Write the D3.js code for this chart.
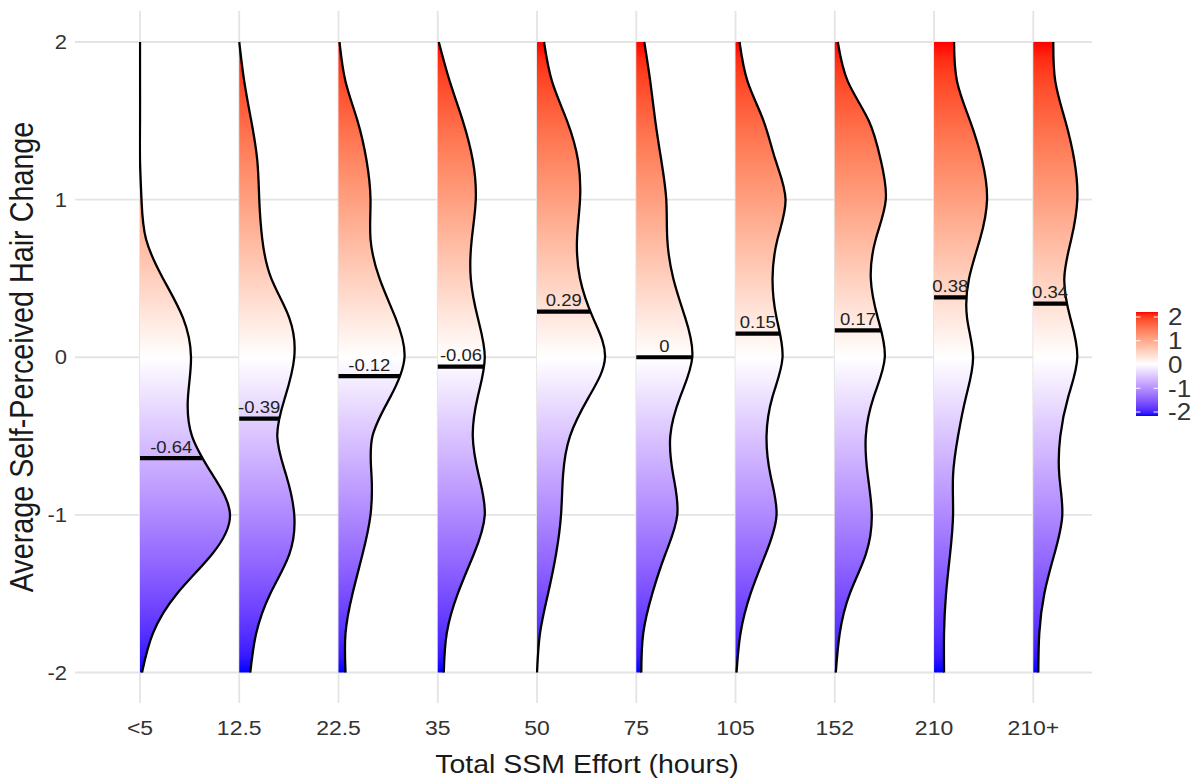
<!DOCTYPE html>
<html>
<head>
<meta charset="utf-8">
<script src="https://cdn.jsdelivr.net/npm/d3@7"></script>
<style>
  html, body { margin: 0; padding: 0; background: #ffffff; }
  svg { display: block; }
  text { font-family: "Liberation Sans", Arial, Helvetica, sans-serif; }
</style>
</head>
<body>
<svg id="chart" width="1198" height="783"></svg>
<script>
// ---------------- DATA ----------------
const categories = ["<5", "12.5", "22.5", "35", "50", "75", "105", "152", "210", "210+"];
// y levels at which the (relative) density of each group was read
const yLevels = [2, 1.75, 1.5, 1.25, 1, 0.75, 0.5, 0.25, 0, -0.25, -0.5, -0.75, -1, -1.25, -1.5, -1.75, -2];
// relative densities (half-violin widths) per group, top (2) to bottom (-2)
const densLt5  = [0.00, 0.00, 0.00, 0.00, 0.015, 0.06, 0.23, 0.43, 0.51, 0.48, 0.52, 0.73, 0.90, 0.72, 0.37, 0.13, 0.02];
const dens12_5 = [0.00, 0.05, 0.12, 0.18, 0.20, 0.23, 0.32, 0.50, 0.55, 0.46, 0.38, 0.47, 0.55, 0.50, 0.31, 0.17, 0.11];
const dens22_5 = [0.01, 0.07, 0.19, 0.28, 0.32, 0.32, 0.41, 0.57, 0.66, 0.52, 0.34, 0.33, 0.32, 0.24, 0.14, 0.07, 0.07];
const dens35   = [0.01, 0.12, 0.25, 0.35, 0.38, 0.34, 0.33, 0.40, 0.47, 0.40, 0.35, 0.41, 0.47, 0.36, 0.20, 0.09, 0.06];
const dens50   = [0.07, 0.15, 0.30, 0.41, 0.43, 0.40, 0.43, 0.56, 0.68, 0.52, 0.33, 0.26, 0.24, 0.19, 0.11, 0.03, 0.00];
const dens75   = [0.08, 0.14, 0.19, 0.25, 0.30, 0.31, 0.37, 0.49, 0.56, 0.44, 0.34, 0.37, 0.41, 0.29, 0.16, 0.07, 0.05];
const dens105  = [0.04, 0.12, 0.28, 0.40, 0.50, 0.42, 0.37, 0.41, 0.47, 0.37, 0.31, 0.35, 0.41, 0.30, 0.15, 0.05, 0.01];
const dens152  = [0.03, 0.13, 0.34, 0.46, 0.51, 0.41, 0.36, 0.43, 0.50, 0.39, 0.31, 0.33, 0.37, 0.31, 0.15, 0.05, 0.01];
const dens210  = [0.20, 0.23, 0.36, 0.48, 0.53, 0.46, 0.35, 0.33, 0.39, 0.32, 0.24, 0.19, 0.19, 0.16, 0.12, 0.10, 0.10];
const dens210p = [0.20, 0.22, 0.32, 0.41, 0.44, 0.38, 0.31, 0.37, 0.44, 0.35, 0.27, 0.26, 0.29, 0.21, 0.11, 0.06, 0.05];
const densities = [densLt5, dens12_5, dens22_5, dens35, dens50, dens75, dens105, dens152, dens210, dens210p];
const means = [-0.64, -0.39, -0.12, -0.06, 0.29, 0, 0.15, 0.17, 0.38, 0.34];
const meanLabels = ["-0.64", "-0.39", "-0.12", "-0.06", "0.29", "0", "0.15", "0.17", "0.38", "0.34"];
const yTicks = [2, 1, 0, -1, -2];
const legendTicks = [2, 1, 0, -1, -2];
const xTitle = "Total SSM Effort (hours)";
const yTitle = "Average Self-Perceived Hair Change";

// ---------------- LAYOUT ----------------
const svg = d3.select("#chart");
const panel = { left: 75, right: 1092, top: 11, bottom: 703 };
const SQ = 0.89; // vertical squash of the original rendering's text

const x = d3.scalePoint().domain(categories).range([140, 1033.3]);
const y = d3.scaleLinear().domain([-2, 2]).range([672.5, 42]);
const w = d3.scaleLinear().domain([0, 1]).range([0, 100]);
const color = d3.scaleLinear().domain([-2, 0, 2]).range(["#0000ff", "#ffffff", "#ff0000"]).interpolate(d3.interpolateLab);

const defs = svg.append("defs");
const grad = defs.append("linearGradient").attr("id", "vgrad")
  .attr("gradientUnits", "userSpaceOnUse")
  .attr("x1", 0).attr("x2", 0).attr("y1", y(2)).attr("y2", y(-2));
d3.range(0, 41).forEach(i => {
  const v = 2 - i * 0.1;
  grad.append("stop").attr("offset", (i / 40)).attr("stop-color", color(v));
});
const lgrad = defs.append("linearGradient").attr("id", "lgrad")
  .attr("x1", 0).attr("x2", 0).attr("y1", 0).attr("y2", 1);
d3.range(0, 41).forEach(i => {
  const v = 2 - i * 0.1;
  lgrad.append("stop").attr("offset", (i / 40)).attr("stop-color", color(v));
});

// ---------------- GRID ----------------
const grid = svg.append("g");
grid.selectAll("line.h").data(yTicks).join("line")
  .attr("x1", panel.left).attr("x2", panel.right)
  .attr("y1", d => y(d)).attr("y2", d => y(d))
  .attr("stroke", "#e4e4e4").attr("stroke-width", 1.8);
grid.selectAll("line.v").data(categories).join("line")
  .attr("x1", d => x(d)).attr("x2", d => x(d))
  .attr("y1", panel.top).attr("y2", panel.bottom)
  .attr("stroke", "#e4e4e4").attr("stroke-width", 1.8);

// ---------------- VIOLINS ----------------
const curve = d3.curveNatural;
const gV = svg.append("g");
categories.forEach((c, i) => {
  const x0 = x(c);
  const clipId = "clip" + i;
  defs.append("clipPath").attr("id", clipId).append("rect")
    .attr("x", x0 - 1.2).attr("y", y(2) - 3).attr("width", 120).attr("height", y(-2) - y(2) + 6);
  const pts = yLevels.map((v, k) => ({ v: v, d: densities[i][k] }));
  const area = d3.area().curve(curve)
    .y(p => y(p.v)).x0(x0).x1(p => x0 + w(p.d));
  const line = d3.line().curve(curve)
    .x(p => x0 + w(p.d)).y(p => y(p.v));
  const gc = gV.append("g").attr("clip-path", `url(#${clipId})`);
  gc.append("path").attr("d", area(pts)).attr("fill", "url(#vgrad)").attr("stroke", "none");
  const outline = gc.append("path").attr("d", line(pts))
    .attr("fill", "none").attr("stroke", "#000").attr("stroke-width", 2.3)
    .attr("stroke-linejoin", "round");
  const node = outline.node();
  const L = node.getTotalLength();
  const ty = y(means[i]);
  let best = null, bd = Infinity;
  for (let s = 0; s <= L; s += 0.5) {
    const p = node.getPointAtLength(s);
    const dd = Math.abs(p.y - ty);
    if (dd < bd) { bd = dd; best = p; }
  }
  const xe = best ? best.x : x0 + 40;
  gV.append("line").attr("x1", x0).attr("x2", xe).attr("y1", ty).attr("y2", ty)
    .attr("stroke", "#000").attr("stroke-width", 4.2);
  gV.append("g").attr("transform", `translate(${(x0 + xe) / 2},${ty - 5.5}) scale(1,${SQ})`)
    .append("text").attr("text-anchor", "middle").attr("font-size", 18.5)
    .attr("fill", "#222").text(meanLabels[i]);
});

// ---------------- AXES TEXT ----------------
const gx = svg.append("g");
categories.forEach(c => {
  gx.append("g").attr("transform", `translate(${x(c)},735) scale(1,${SQ})`)
    .append("text").attr("text-anchor", "middle").attr("font-size", 23)
    .attr("fill", "#333").text(c);
});
const gy = svg.append("g");
yTicks.forEach(t => {
  gy.append("g").attr("transform", `translate(67,${y(t)}) scale(1,${SQ})`)
    .append("text").attr("text-anchor", "end").attr("dy", "0.36em").attr("font-size", 22)
    .attr("fill", "#333").text(t);
});
svg.append("g").attr("transform", `translate(587,773) scale(1,${SQ})`)
  .append("text").attr("text-anchor", "middle").attr("font-size", 28.5)
  .attr("fill", "#1a1a1a").text(xTitle);
svg.append("g").attr("transform", `translate(33,357) scale(1,${SQ}) rotate(-90)`)
  .append("text").attr("text-anchor", "middle").attr("font-size", 32.3)
  .attr("fill", "#1a1a1a").text(yTitle);

// ---------------- LEGEND ----------------
const lg = { x: 1136, y: 312, w: 22, h: 104 };
const ly = d3.scaleLinear().domain([-2, 2]).range([lg.y + lg.h - 4, lg.y + 5]);
svg.append("rect").attr("x", lg.x).attr("y", lg.y).attr("width", lg.w).attr("height", lg.h)
  .attr("fill", "url(#lgrad)");
const lgT = svg.append("g");
legendTicks.forEach(t => {
  lgT.append("line").attr("x1", lg.x).attr("x2", lg.x + 4.4).attr("y1", ly(t)).attr("y2", ly(t))
    .attr("stroke", "#fff").attr("stroke-width", 1);
  lgT.append("line").attr("x1", lg.x + lg.w - 4.4).attr("x2", lg.x + lg.w).attr("y1", ly(t)).attr("y2", ly(t))
    .attr("stroke", "#fff").attr("stroke-width", 1);
  lgT.append("g").attr("transform", `translate(1168,${ly(t)}) scale(1,${SQ})`)
    .append("text").attr("dy", "0.36em").attr("font-size", 26).attr("fill", "#333").text(t);
});
</script>
</body>
</html>
